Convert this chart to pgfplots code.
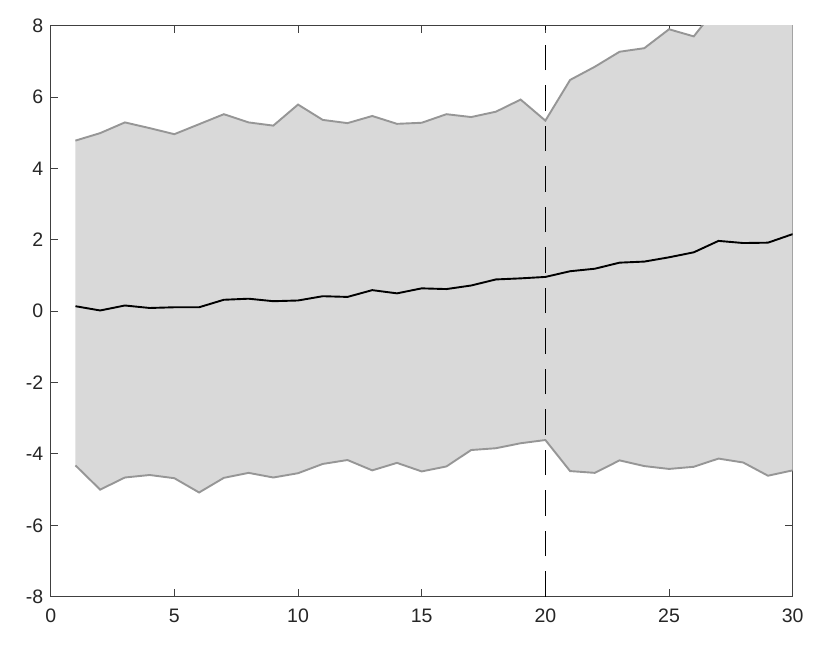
\documentclass[border=0pt]{standalone}
\usepackage{pgfplots}
\pgfplotsset{compat=1.18}
\usepackage{fontspec}
\setmainfont{Liberation Sans}
\usetikzlibrary{calc}
\definecolor{bandfill}{RGB}{217,217,217}
\definecolor{bandline}{RGB}{150,150,150}
\definecolor{axgray}{RGB}{64,64,64}
\begin{document}
\begin{tikzpicture}
\begin{axis}[
  scale only axis,
  width=742bp, height=571bp,
  xmin=0, xmax=30, ymin=-8, ymax=8,
  xtick={0,5,...,30}, ytick={-8,-6,...,8},
  tick align=inside,
  major tick length=7.5bp,
  axis line style={axgray, line width=1.1bp},
  every tick/.style={axgray, line width=1bp},
  tick label style={font=\fontsize{19.5bp}{23bp}\selectfont, text=black!85},
  /pgf/number format/assume math mode=true,
  xticklabel style={yshift=-9bp},
  yticklabel style={xshift=-4bp},
  clip=true,
]
\coordinate (sw) at (rel axis cs:0,0);
\coordinate (ne) at (rel axis cs:1,1);
% band
\addplot[fill=bandfill, draw=none] coordinates {
(1,4.78) (2,4.99) (3,5.29) (4,5.13) (5,4.96) (6,5.24) (7,5.52) (8,5.29) (9,5.20) (10,5.79)
(11,5.36) (12,5.27) (13,5.47) (14,5.25) (15,5.28) (16,5.52) (17,5.44) (18,5.59) (19,5.93) (20,5.34)
(21,6.48) (22,6.85) (23,7.27) (24,7.37) (25,7.90) (26,7.70) (27,8.58) (28,8.9) (29,9.1) (30,9.3)
(30,-4.46) (29,-4.61) (28,-4.24) (27,-4.13) (26,-4.36) (25,-4.42) (24,-4.34) (23,-4.18) (22,-4.53) (21,-4.48)
(20,-3.61) (19,-3.70) (18,-3.84) (17,-3.89) (16,-4.35) (15,-4.49) (14,-4.25) (13,-4.46) (12,-4.17) (11,-4.28)
(10,-4.54) (9,-4.66) (8,-4.53) (7,-4.67) (6,-5.08) (5,-4.68) (4,-4.59) (3,-4.66) (2,-5.00) (1,-4.32)
} -- cycle;
% upper
\addplot[bandline, line width=1.9bp] coordinates {
(1,4.78) (2,4.99) (3,5.29) (4,5.13) (5,4.96) (6,5.24) (7,5.52) (8,5.29) (9,5.20) (10,5.79)
(11,5.36) (12,5.27) (13,5.47) (14,5.25) (15,5.28) (16,5.52) (17,5.44) (18,5.59) (19,5.93) (20,5.34)
(21,6.48) (22,6.85) (23,7.27) (24,7.37) (25,7.90) (26,7.70) (27,8.58) (28,8.9) (29,9.1) (30,9.3)
};
% lower
\addplot[bandline, line width=1.9bp] coordinates {
(1,-4.32) (2,-5.00) (3,-4.66) (4,-4.59) (5,-4.68) (6,-5.08) (7,-4.67) (8,-4.53) (9,-4.66) (10,-4.54)
(11,-4.28) (12,-4.17) (13,-4.46) (14,-4.25) (15,-4.49) (16,-4.35) (17,-3.89) (18,-3.84) (19,-3.70) (20,-3.61)
(21,-4.48) (22,-4.53) (23,-4.18) (24,-4.34) (25,-4.42) (26,-4.36) (27,-4.13) (28,-4.24) (29,-4.61) (30,-4.46)
};
% vertical dashed line
\addplot[black, line width=0.9bp, dash pattern=on 25.5bp off 15bp] coordinates {(20,-8) (20,8)};
% mean
\addplot[black, line width=1.9bp] coordinates {
(1,0.14) (2,0.02) (3,0.16) (4,0.09) (5,0.11) (6,0.11) (7,0.32) (8,0.35) (9,0.28) (10,0.30)
(11,0.42) (12,0.40) (13,0.59) (14,0.50) (15,0.64) (16,0.62) (17,0.72) (18,0.89) (19,0.92) (20,0.96)
(21,1.12) (22,1.19) (23,1.36) (24,1.39) (25,1.51) (26,1.65) (27,1.97) (28,1.91) (29,1.92) (30,2.16)
};
\end{axis}
\pgfresetboundingbox
\path ($(sw)+(-50.7bp,-51.3bp)$) rectangle ($(ne)+(37.3bp,25.7bp)$);
\end{tikzpicture}
\end{document}
